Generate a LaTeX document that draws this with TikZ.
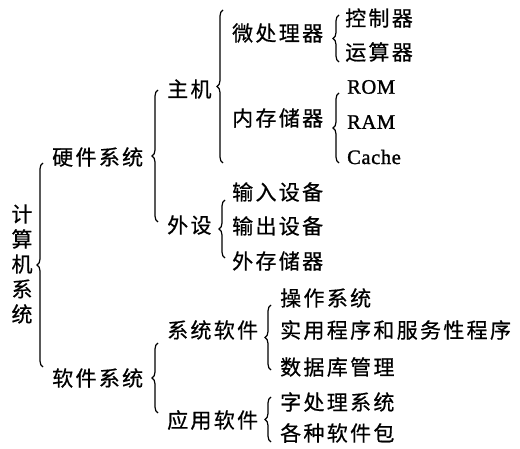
\documentclass[tikz,border=0pt]{standalone}
\usepackage{fontspec}
\setmainfont{Liberation Serif}
\newfontfamily\cjk[LetterSpace=11,FakeBold=0.6]{Noto Sans CJK SC}
\newfontfamily\latn[FakeBold=1.2,LetterSpace=3]{Liberation Serif}
\usetikzlibrary{decorations.pathreplacing}
\tikzset{
  lbl/.style={anchor=west, inner sep=0pt, font=\cjk\fontsize{21}{25}\selectfont},
  lat/.style={anchor=west, inner sep=0pt, font=\latn\fontsize{20.5}{24}\selectfont},
  brc/.style={decorate, decoration={brace, amplitude=6pt}, line width=1.2pt},
}
\begin{document}
\begin{tikzpicture}[x=1pt,y=-1pt]
\useasboundingbox (0,0) rectangle (520,449);
% root
\node[lbl, anchor=center, align=center] (root) at (22,264) {计\\算\\机\\系\\统};
% level 1
\node[lbl] (hw) at (52,157) {硬件系统};
\node[lbl] (sw) at (52,378) {软件系统};
% level 2
\node[lbl] (host) at (167,89) {主机};
\node[lbl] (peri) at (167,225) {外设};
\node[lbl] (syssw) at (167,330) {系统软件};
\node[lbl] (appsw) at (167,420) {应用软件};
% level 3
\node[lbl] (cpu) at (232,33) {微处理器};
\node[lbl] (mem) at (232,118) {内存储器};
\node[lbl] (in) at (232,192) {输入设备};
\node[lbl] (out) at (232,226) {输出设备};
\node[lbl] (ext) at (232,261) {外存储器};
\node[lbl] (os) at (280,298) {操作系统};
\node[lbl] (util) at (280,330) {实用程序和服务性程序};
\node[lbl] (db) at (280,367) {数据库管理};
\node[lbl] (wp) at (280,402) {字处理系统};
\node[lbl] (pkg) at (280,433) {各种软件包};
% level 4
\node[lbl] (ctrl) at (345,18) {控制器};
\node[lbl] (alu) at (345,52) {运算器};
\node[lat] (rom) at (347,87) {ROM};
\node[lat] (ram) at (347,122) {RAM};
\node[lat] (cache) at (347,157) {Cache};
% brace ends
\coordinate (b0t) at (43,163); \coordinate (b0b) at (43,367);
\coordinate (b1t) at (158,90);  \coordinate (b1b) at (158,222);
\coordinate (b2t) at (223,10);  \coordinate (b2b) at (223,163);
\coordinate (b3t) at (339,15);  \coordinate (b3b) at (339,62);
\coordinate (b4t) at (339,93);  \coordinate (b4b) at (339,163);
\coordinate (b5t) at (225,200); \coordinate (b5b) at (225,258);
\coordinate (b6t) at (158,343); \coordinate (b6b) at (158,413);
\coordinate (b7t) at (271,305); \coordinate (b7b) at (271,370);
\coordinate (b8t) at (271,397); \coordinate (b8b) at (271,442);
\foreach \b in {b0,b1,b2,b3,b4,b5,b6,b7,b8}
  \draw[brc] (\b b) -- (\b t);
\end{tikzpicture}
\end{document}
